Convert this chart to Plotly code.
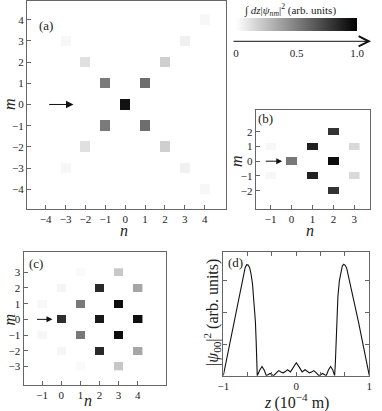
import plotly.graph_objects as go

# ---------------- data ----------------
# panel (a)
a_n = [0, -1, -1, 1, 1, -2, -2, 2, 2, -3, -3, 3, 3, 4, 4]
a_m = [0, 1, -1, 1, -1, 2, -2, 2, -2, 3, -3, 3, -3, 4, -4]
a_v = [0.93, 0.52, 0.52, 0.57, 0.57, 0.12, 0.12, 0.19, 0.19, 0.03, 0.03, 0.06, 0.06, 0.03, 0.03]
# panel (b)
b_n = [-1, -1, 0, 1, 1, 2, 2, 2, 3, 3]
b_m = [1, -1, 0, 1, -1, 2, 0, -2, 1, -1]
b_v = [0.03, 0.03, 0.53, 0.87, 0.87, 0.80, 0.95, 0.80, 0.15, 0.15]
# panel (c)
c_n = [-1, -1, 0, 0, 0, 1, 1, 1, 1, 2, 2, 2, 3, 3, 3, 3, 4, 4, 4]
c_m = [1, -1, 0, 2, -2, 1, -1, 3, -3, 2, 0, -2, 1, -1, 3, -3, 0, 2, -2]
c_v = [0.03, 0.03, 0.82, 0.04, 0.04, 0.53, 0.53, 0.02, 0.02, 0.84, 0.90, 0.84,
       0.95, 0.95, 0.22, 0.22, 0.94, 0.35, 0.35]
# panel (d)
d_z = [-1.0, -0.95, -0.9, -0.85, -0.8, -0.76, -0.73, -0.70, -0.68, -0.66, -0.64, -0.62,
       -0.60, -0.58, -0.56, -0.55, -0.54, -0.535,
       -0.50, -0.47, -0.44, -0.41, -0.36, -0.31, -0.27, -0.24, -0.21, -0.18, -0.15,
       -0.12, -0.08, -0.04, 0.0, 0.04, 0.08, 0.12, 0.15, 0.18, 0.21, 0.24, 0.27,
       0.31, 0.36, 0.41, 0.44, 0.47, 0.50, 0.525,
       0.535, 0.545, 0.555, 0.57, 0.59, 0.61, 0.63, 0.65, 0.67, 0.69, 0.72, 0.76,
       0.80, 0.85, 0.90, 0.95, 1.0]
d_v = [0.0, 0.58, 1.17, 1.75, 2.33, 2.78, 3.15, 3.42, 3.51, 3.50, 3.42, 3.22,
       2.90, 2.40, 1.70, 1.10, 0.40, 0.0,
       0.18, 0.29, 0.18, 0.0, 0.07, 0.0, 0.10, 0.16, 0.12, 0.09, 0.13,
       0.19, 0.12, 0.27, 0.41, 0.27, 0.12, 0.19, 0.13, 0.09, 0.12, 0.16, 0.10,
       0.0, 0.07, 0.0, 0.18, 0.29, 0.18, 0.0,
       0.40, 1.10, 1.80, 2.50, 3.00, 3.30, 3.47, 3.52, 3.49, 3.40, 3.10, 2.70,
       2.28, 1.72, 1.15, 0.57, 0.0]

cbar_ticks = [0, 0.5, 1.0]
cbar_text = ["0", "0.5", "1.0"]

FONT = "Liberation Serif, DejaVu Serif, Times New Roman, serif"
HALF = 0.25


def grid(ns, ms, vs, nlo, nhi, mlo, mhi):
    xe, ye = [], []
    for n in range(nlo, nhi + 1):
        xe += [n - HALF, n + HALF]
    for m in range(mlo, mhi + 1):
        ye += [m - HALF, m + HALF]
    z = [[None] * (2 * (nhi - nlo) + 1) for _ in range(2 * (mhi - mlo) + 1)]
    for n, m, v in zip(ns, ms, vs):
        z[2 * (m - mlo)][2 * (n - nlo)] = v
    return xe, ye, z


fig = go.Figure()

for (ns, ms, vs, lims, ax) in [
    (a_n, a_m, a_v, (-4, 4, -4, 4), ""),
    (b_n, b_m, b_v, (-1, 3, -2, 2), "2"),
    (c_n, c_m, c_v, (-1, 4, -3, 3), "3"),
]:
    xe, ye, z = grid(ns, ms, vs, *lims)
    fig.add_trace(go.Heatmap(x=xe, y=ye, z=z, coloraxis="coloraxis",
                             xaxis="x" + ax, yaxis="y" + ax, hoverinfo="skip"))

fig.add_trace(go.Scatter(x=d_z, y=d_v, mode="lines", line=dict(color="#111", width=1.1),
                         xaxis="x4", yaxis="y4", showlegend=False))

axcommon = dict(showline=True, linecolor="#666", linewidth=1, mirror=True,
                ticks="inside", ticklen=4, tickcolor="#666", showgrid=False,
                zeroline=False, tickfont=dict(family=FONT, size=11, color="#222"))


def ticks(lo, hi):
    vals = list(range(lo, hi + 1))
    return dict(tickmode="array", tickvals=vals,
                ticktext=[("\u2212" + str(-v)) if v < 0 else str(v) for v in vals])


fig.update_layout(
    width=382, height=411, margin=dict(l=0, r=0, t=0, b=0, autoexpand=False),
    paper_bgcolor="white", plot_bgcolor="white", showlegend=False,
    font=dict(family=FONT, color="#222"),
    coloraxis=dict(
        cmin=0, cmax=1, colorscale=[[0, "#ffffff"], [1, "#000000"]],
        colorbar=dict(orientation="h", x=(236 + 357) / 2 / 382, xanchor="center",
                      y=1 - 17.7 / 411, yanchor="top", len=121, lenmode="pixels",
                      thickness=13, thicknessmode="pixels", outlinewidth=0,
                      xpad=0, ypad=0, tickmode="array", tickvals=cbar_ticks,
                      ticktext=cbar_text, ticks="outside", ticklen=13,
                      tickcolor="rgba(0,0,0,0)",
                      tickfont=dict(family=FONT, size=11, color="#222"))),
    xaxis=dict(domain=[27 / 382, 226 / 382], range=[-4.94, 5.07], anchor="y",
               **ticks(-4, 4), **axcommon),
    yaxis=dict(domain=[1 - 209 / 411, 1 - 1 / 411], range=[-4.93, 4.88], anchor="x",
               **ticks(-4, 4), **axcommon),
    xaxis2=dict(domain=[255.7 / 382, 369.5 / 382], range=[-1.72, 3.73], anchor="y2",
                **ticks(-1, 3), **axcommon),
    yaxis2=dict(domain=[1 - 209 / 411, 1 - 110 / 411], range=[-3.24, 3.47], anchor="x2",
                **ticks(-2, 2), **axcommon),
    xaxis3=dict(domain=[23.5 / 382, 165.7 / 382], range=[-1.98, 5.47], anchor="y3",
                **ticks(-1, 4), **axcommon),
    yaxis3=dict(domain=[1 - 385 / 411, 1 - 252 / 411], range=[-4.18, 4.29], anchor="x3",
                **ticks(-3, 3), **axcommon),
    xaxis4=dict(domain=[223.3 / 382, 369.3 / 382], range=[-1, 1], anchor="y4",
                tickmode="array", tickvals=[-1, 0, 1],
                ticktext=["\u22121", "0", "1"],
                minor=dict(tickmode="array", tickvals=[-2 / 3, -1 / 3, 1 / 3, 2 / 3],
                           ticks="inside", ticklen=4, tickcolor="#666"),
                **axcommon),
    yaxis4=dict(domain=[1 - 375.7 / 411, 1 - 252.3 / 411], range=[0, 3.9], anchor="x4",
                tickmode="array", tickvals=[0, 1, 2, 3], showticklabels=False, **axcommon),
)
fig.update_layout(xaxis4_mirror="ticks", yaxis4_mirror="ticks")

ann = []
ttl = dict(family=FONT, size=16, color="#222")
lbl = dict(family=FONT, size=13, color="#222")


def pa(x, y, text, font, angle=0):
    ann.append(dict(x=x / 382, y=1 - y / 411, xref="paper", yref="paper", text=text,
                    showarrow=False, font=font, textangle=angle,
                    xanchor="center", yanchor="middle"))


# axis titles
pa(124, 230, "<i>n</i>", ttl)
pa(9, 104, "<i>m</i>", ttl, -90)
pa(310, 230, "<i>n</i>", ttl)
pa(236, 161, "<i>m</i>", ttl, -90)
pa(88, 400, "<i>n</i>", ttl)
pa(8.5, 320, "<i>m</i>", ttl, -90)
pa(296.7, 401, "<i>z</i>\u2009(10<sup>\u22124</sup> m)", dict(family=FONT, size=16, color="#222"))
pa(212, 313, "|<i>\u03c8</i><sub>00</sub>|<sup>2</sup> (arb. units)",
   dict(family=FONT, size=16, color="#222"), -90)
# panel labels
pa(45.5, 25, "(a)", lbl)
pa(265.6, 119, "(b)", lbl)
pa(36, 263, "(c)", lbl)
pa(235, 262, "(d)", lbl)
# colorbar title
pa(290, 10, "\u222b <i>dz</i>|<i>\u03c8</i><sub><i>nm</i></sub>|<sup>2</sup> (arb. units)",
   dict(family=FONT, size=11, color="#222"))

# colorbar axis arrow
ann.append(dict(x=371 / 382, y=1 - 41.3 / 411, xref="paper", yref="paper", text="",
                showarrow=True, ax=-139, ay=0, axref="pixel", ayref="pixel",
                arrowhead=5, arrowsize=2, arrowwidth=1, arrowcolor="#111"))

# incident-beam arrows at m = 0
for xr, yr, x0, x1, s in [("x", "y", -3.9, -2.6, 1.5), ("x2", "y2", -1.31, -0.45, 1.2),
                          ("x3", "y3", -1.35, -0.46, 1.2)]:
    ann.append(dict(x=x1, y=0, xref=xr, yref=yr, ax=x0, ay=0, axref=xr, ayref=yr,
                    text="", showarrow=True, arrowhead=2, arrowsize=s, arrowwidth=1,
                    arrowcolor="#111"))

fig.update_layout(annotations=ann)
fig.write_html("out.html", config={"displayModeBar": False},
               post_script="document.body.style.margin='0px';"
                           "document.body.style.overflow='hidden';")
